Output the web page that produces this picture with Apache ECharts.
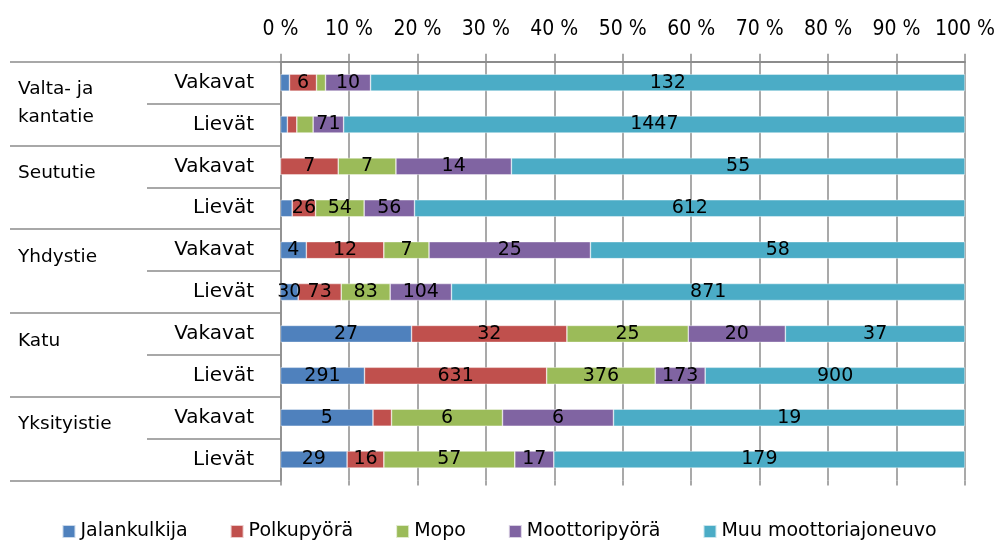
<!DOCTYPE html>
<html>
<head>
<meta charset="utf-8">
<script src="https://cdn.jsdelivr.net/npm/echarts@6/dist/echarts.min.js"></script>
<style>
  html, body { margin: 0; padding: 0; background: #fff; }
  #main { width: 998px; height: 541px; }
</style>
</head>
<body>
<div id="main"></div>
<script type="text/javascript">
// road types (groups) and severity rows
var groups = ['Valta- ja\nkantatie', 'Seututie', 'Yhdystie', 'Katu', 'Yksityistie'];
var rows = ['Vakavat', 'Lievät', 'Vakavat', 'Lievät', 'Vakavat', 'Lievät', 'Vakavat', 'Lievät', 'Vakavat', 'Lievät'];
var seriesNames = ['Jalankulkija', 'Polkupyörä', 'Mopo', 'Moottoripyörä', 'Muu moottoriajoneuvo'];
var colors = ['#4F81BD', '#C0504D', '#9BBB59', '#8064A2', '#4BACC6'];

// counts per row (top to bottom)
var jalankulkija = [2, 16, 0, 13, 4, 30, 27, 291, 5, 29];
var polkupyora = [6, 22, 7, 26, 12, 73, 32, 631, 1, 16];
var mopo = [2, 38, 7, 54, 7, 83, 25, 376, 6, 57];
var moottoripyora = [10, 71, 14, 56, 25, 104, 20, 173, 6, 17];
var muu = [132, 1447, 55, 612, 58, 871, 37, 900, 19, 179];

// segments whose count label is not shown: [series, row]
var hiddenLabels = [[0, 0], [2, 0], [0, 1], [1, 1], [2, 1], [0, 2], [0, 3], [1, 8]];

var xTicks = [0, 10, 20, 30, 40, 50, 60, 70, 80, 90, 100];

var counts = [jalankulkija, polkupyora, mopo, moottoripyora, muu];
var totals = rows.map(function (r, i) {
  var s = 0;
  for (var k = 0; k < counts.length; k++) s += counts[k][i];
  return s;
});
function isHidden(si, ri) {
  for (var i = 0; i < hiddenLabels.length; i++) {
    if (hiddenLabels[i][0] === si && hiddenLabels[i][1] === ri) return true;
  }
  return false;
}

var series = counts.map(function (arr, si) {
  return {
    name: seriesNames[si],
    type: 'bar',
    stack: 'total',
    barWidth: 17,
    itemStyle: { color: colors[si], borderColor: 'rgba(255,255,255,0.7)', borderWidth: 0.6 },
    label: {
      show: true,
      position: 'inside',
      color: '#000',
      fontFamily: 'DejaVu Sans',
      fontSize: 19,
      formatter: function (p) { return String(arr[p.dataIndex]); }
    },
    data: arr.map(function (v, ri) {
      var item = { value: v / totals[ri] * 100 };
      if (isHidden(si, ri) || v === 0) item.label = { show: false };
      return item;
    })
  };
});

var myChart = echarts.init(document.getElementById('main'));
var gray = '#8c8c8c';
var option = {
  animation: false,
  color: colors,
  textStyle: { fontFamily: 'DejaVu Sans' },
  grid: { left: 280.5, right: 33, top: 61.7, bottom: 60.5 },
  legend: {
    left: 'center',
    top: 517,
    icon: 'rect',
    itemWidth: 13,
    itemHeight: 13,
    itemGap: 42,
    textStyle: { fontFamily: 'DejaVu Sans', fontSize: 19, color: '#000' },
    data: seriesNames
  },
  xAxis: [{
    type: 'value',
    position: 'top',
    min: xTicks[0],
    max: xTicks[xTicks.length - 1],
    interval: xTicks[1] - xTicks[0],
    axisLine: { show: true, lineStyle: { color: gray, width: 2 } },
    axisTick: { show: true, length: 8, lineStyle: { color: gray, width: 1.5 } },
    axisLabel: {
      margin: 22,
      color: '#000',
      fontFamily: 'DejaVu Sans Condensed',
      fontSize: 21,
      formatter: '{value} %'
    },
    splitLine: { show: true, lineStyle: { color: gray, width: 1.5 } }
  }, {
    type: 'value',
    position: 'bottom',
    min: xTicks[0],
    max: xTicks[xTicks.length - 1],
    interval: xTicks[1] - xTicks[0],
    axisLine: { show: false },
    axisTick: { show: true, length: 5, lineStyle: { color: gray, width: 1.5 } },
    axisLabel: { show: false },
    splitLine: { show: false }
  }],
  yAxis: [{
    type: 'category',
    inverse: true,
    data: rows.map(function (r, i) { return i + '|' + r; }),
    axisLine: { show: true, lineStyle: { color: gray, width: 1.5 } },
    axisTick: { show: true, length: 133.5, lineStyle: { color: gray, width: 1.5 } },
    axisLabel: {
      margin: 26.5,
      color: '#000',
      fontFamily: 'DejaVu Sans',
      fontSize: 20,
      formatter: function (v) { return v.split('|')[1]; }
    }
  }, {
    type: 'category',
    position: 'left',
    inverse: true,
    data: groups,
    axisLine: { show: false },
    axisTick: { show: true, length: 270.5, lineStyle: { color: gray, width: 1.5 } },
    axisLabel: {
      margin: 262.5,
      align: 'left',
      color: '#000',
      fontFamily: 'DejaVu Sans',
      fontSize: 18.5,
      lineHeight: 28,
      formatter: function (v) { return v.indexOf('\n') < 0 ? v + '\n ' : v; }
    }
  }],
  series: series
};
myChart.setOption(option);
</script>
</body>
</html>
